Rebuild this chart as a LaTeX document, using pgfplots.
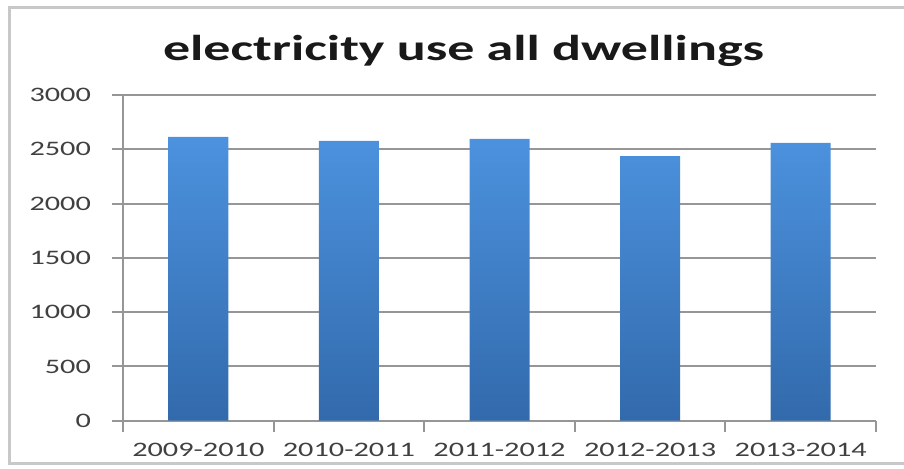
\documentclass[border=0pt]{standalone}
\usepackage{fontspec}
\usepackage{pgfplots}
\pgfplotsset{compat=1.18}
\newfontfamily\tickfont[FakeStretch=1.47]{Carlito}
\newfontfamily\titlefont[FakeStretch=1.5]{Carlito}
\definecolor{bartop}{RGB}{76,146,222}
\definecolor{barbot}{RGB}{50,106,172}
\definecolor{gridc}{RGB}{150,150,150}
\definecolor{framec}{RGB}{200,200,200}
\begin{document}
\begin{tikzpicture}
\path[use as bounding box] (0,0) rectangle (452pt,234pt);
\draw[framec, line width=1.5pt] (453pt,230.5pt) -- (4.5pt,230.5pt) -- (4.5pt,2.5pt) -- (453pt,2.5pt);
\node[font=\titlefont\bfseries\fontsize{18}{20}\selectfont, anchor=base, text=black!90] at (231.75pt,204pt) {electricity use all dwellings};
\begin{axis}[
  at={(61.5pt,23.65pt)}, anchor=south west,
  scale only axis, width=376.5pt, height=162.85pt,
  xmin=-0.5, xmax=4.5, ymin=0, ymax=3000,
  ybar, bar width=30pt,
  ytick={0,500,...,3000},
  xtick={-0.5,0.5,...,4.5},
  x tick label as interval,
  xticklabels={2009-2010,2010-2011,2011-2012,2012-2013,2013-2014},
  axis lines=left,
  axis line style={-, draw=gridc, line width=1pt},
  ymajorgrids, grid style={gridc, line width=1pt},
  tick align=outside, major tick length=5.5pt,
  tick style={draw=gridc, line width=1pt},
  /pgf/number format/assume math mode=true,
  /pgf/number format/1000 sep={},
  ticklabel style={font=\tickfont\fontsize{10.3}{12}\selectfont, text=black!75},
  yticklabel style={xshift=-7pt},
  xticklabel style={yshift=-2pt},
]
\addplot[draw=none, top color=bartop, bottom color=barbot] coordinates {(0,2615) (1,2578) (2,2597) (3,2437) (4,2560)};
\end{axis}
\end{tikzpicture}
\end{document}
